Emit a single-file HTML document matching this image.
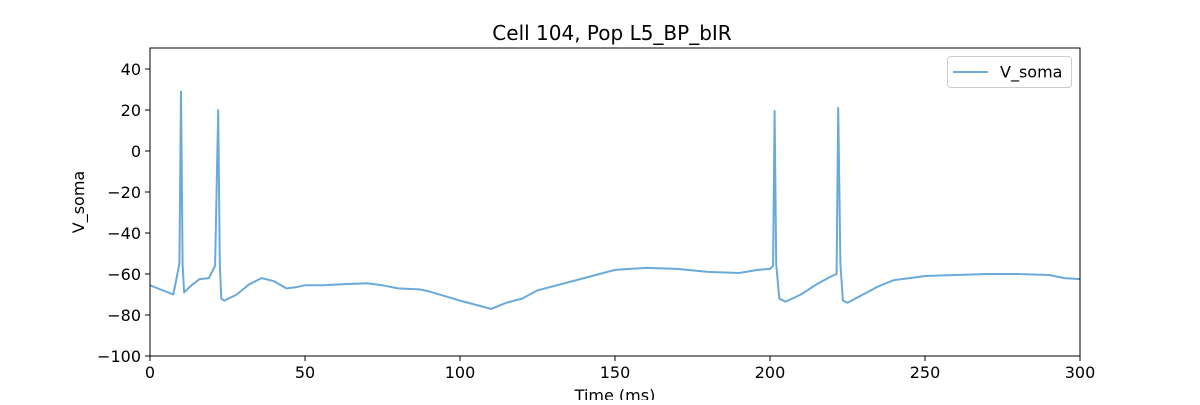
<!DOCTYPE html>
<html><head><meta charset="utf-8"><style>
body{margin:0;background:#fff;}
svg{font-family:"DejaVu Sans","Liberation Sans",sans-serif;}
</style></head><body>
<svg width="1200" height="400" viewBox="0 0 1200 400">
<rect width="1200" height="400" fill="#fff"/>
<text x="612" y="40" font-size="20" text-anchor="middle">Cell 104, Pop L5_BP_bIR</text>
<g id="ticks"></g>
<polyline id="trace" fill="none" stroke="#6aaad9" stroke-width="2" stroke-linejoin="round"/>
<rect x="150" y="48" width="930" height="308" fill="none" stroke="#000" stroke-width="1"/>
<text x="615" y="401" font-size="16" text-anchor="middle">Time (ms)</text>
<text x="84" y="202" font-size="16" text-anchor="middle" transform="rotate(-90 84 202)">V_soma</text>
<g>
<rect x="947.5" y="56.5" width="124" height="31" rx="3" fill="#fff" stroke="#ccc"/>
<line x1="953" y1="72" x2="988" y2="72" stroke="#6aaad9" stroke-width="2"/>
<text x="1000" y="77.5" font-size="16">V_soma</text>
</g>
</svg>
<script>
const times=[0,7.5,9.5,10,10.5,11,13,16,19,21,22,22.5,23,24,28,32,36,40,44,47,50,56,62,70,75,80,87,90,100,110,115,120,125,130,140,150,160,170,180,190,196,200,201,201.5,202,203,205,210,215,220,221.5,222,222.7,223.5,225,230,235,240,245,250,260,270,280,290,295,300];
const volts=[-65.5,-70,-55,29,-55,-69,-66,-62.5,-62,-56,20,-55,-72,-73,-70,-65,-62,-63.5,-67,-66.5,-65.5,-65.5,-65,-64.5,-65.5,-67,-67.5,-68.5,-73,-77,-74,-72,-68,-66,-62,-58,-57,-57.5,-59,-59.5,-58,-57.5,-56,19.5,-55,-72,-73.5,-70,-65,-61,-60,21,-55,-73,-74,-70,-66,-63,-62,-61,-60.5,-60,-60,-60.5,-62,-62.5];
const xTicks=[0,50,100,150,200,250,300];
const yTicks=[-100,-80,-60,-40,-20,0,20,40];
const X=t=>150+t*930/300;
const Y=v=>151-v*2.05;
const NS="http://www.w3.org/2000/svg";
document.getElementById('trace').setAttribute('points',times.map((t,i)=>X(t).toFixed(1)+','+Y(volts[i]).toFixed(1)).join(' '));
const g=document.getElementById('ticks');
function mk(tag,attrs,txt){const e=document.createElementNS(NS,tag);for(const k in attrs)e.setAttribute(k,attrs[k]);if(txt!==undefined)e.textContent=txt;g.appendChild(e);return e;}
xTicks.forEach(t=>{
const l=mk('line',{x1:X(t),x2:X(t),y1:356,y2:361,stroke:'#000'});


const s=mk('text',{x:X(t),y:378,'font-size':16,'text-anchor':'middle'},t);


});
yTicks.forEach(v=>{
const l=mk('line',{x1:145,x2:150,y1:Y(v),y2:Y(v),stroke:'#000'});


const s=mk('text',{x:141,y:Y(v)+6,'font-size':16,'text-anchor':'end'},v<0?'\u2212'+(-v):v);


});
</script>
</body></html>
